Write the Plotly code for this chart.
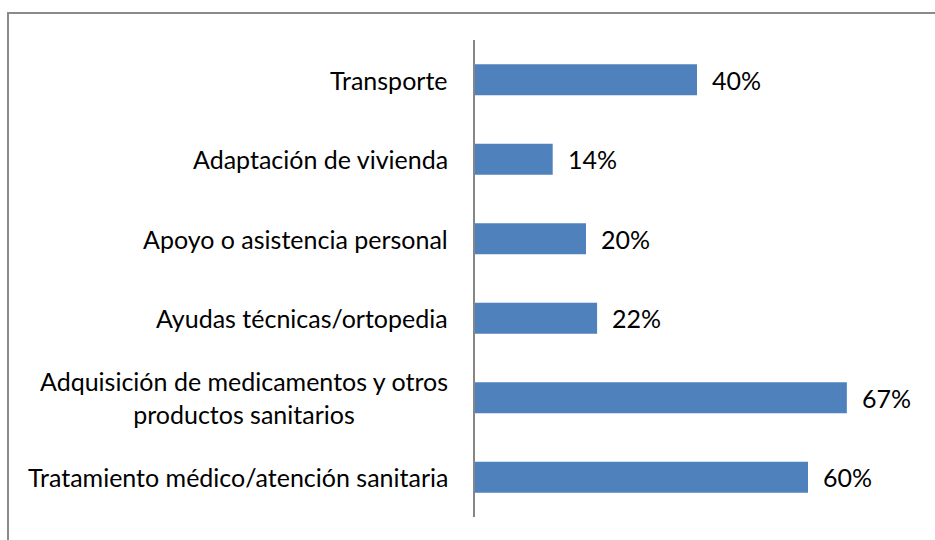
import plotly.graph_objects as go

categories = [
    "Transporte",
    "Adaptación de vivienda",
    "Apoyo o asistencia personal",
    "Ayudas técnicas/ortopedia",
    "Adquisición de medicamentos y otros<br>productos sanitarios",
    "Tratamiento médico/atención sanitaria",
]
values = [0.40, 0.14, 0.20, 0.22, 0.67, 0.60]
value_labels = ["40%", "14%", "20%", "22%", "67%", "60%"]

W, H = 935, 540
L, R, T, B = 475, 16, 40, 23
FONT = "Lato"
FS = 25

fig = go.Figure(go.Bar(
    x=values, y=categories, orientation="h",
    marker=dict(color="#4F81BD", line=dict(width=0)),
    width=0.39, hoverinfo="skip",
))

ann = []
for c, v, t in zip(categories, values, value_labels):
    ann.append(dict(x=0, y=c, xref="x", yref="y", text=c, showarrow=False,
                    xanchor="right", yanchor="middle", align="center", xshift=-25,
                    font=dict(family=FONT, size=FS, color="#000000")))
    ann.append(dict(x=v, y=c, xref="x", yref="y", text=t, showarrow=False,
                    xanchor="left", yanchor="middle", xshift=13,
                    font=dict(family=FONT, size=FS, color="#000000")))

pw = W - L - R
ph = H - T - B
def px(x):
    return (x - L) / pw
def py(y):
    return (H - B - y) / ph

fig.update_layout(
    width=W, height=H,
    margin=dict(l=L, r=R, t=T, b=B),
    paper_bgcolor="white", plot_bgcolor="white",
    showlegend=False,
    xaxis=dict(range=[0, 0.8], visible=False),
    yaxis=dict(autorange=False, range=[5.5, -0.5], showticklabels=False,
               showline=True, linecolor="#868686", linewidth=1.5,
               showgrid=False, zeroline=False, ticks=""),
    annotations=ann,
    shapes=[dict(type="path", xref="paper", yref="paper",
                 path=f"M {px(8)},{py(560)} L {px(8)},{py(13)} L {px(960)},{py(13)}",
                 line=dict(color="#8a8a8a", width=2))],
)

fig.write_html("out.html", config={"displayModeBar": False},
               post_script="document.body.style.margin='0';")
